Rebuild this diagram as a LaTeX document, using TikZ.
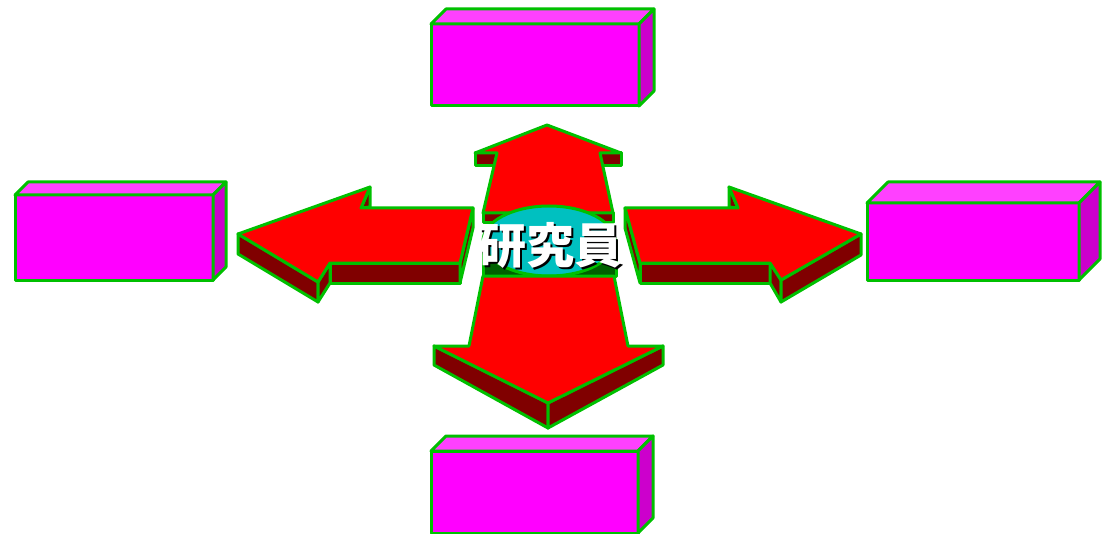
\documentclass[tikz,border=0pt]{standalone}
\usepackage{fontspec}
\newfontfamily\cjk{Noto Sans CJK JP}
\usetikzlibrary{shapes.geometric}
\definecolor{edgegreen}{RGB}{0,192,0}
\definecolor{arrowred}{RGB}{255,0,0}
\definecolor{arrowdark}{RGB}{128,0,0}
\definecolor{boxpink}{RGB}{255,0,255}
\definecolor{boxlight}{RGB}{255,64,255}
\definecolor{boxdark}{RGB}{204,0,204}
\definecolor{hubcyan}{RGB}{0,192,192}
\definecolor{hubdark}{RGB}{0,96,0}

\begin{document}
\begin{tikzpicture}[
    x=0.5pt, y=-0.5pt,
    edge/.style={draw=edgegreen, line width=1.5pt, line join=round},
    topface/.style={edge, fill=arrowred},
    darkface/.style={edge, fill=arrowdark},
    boxfront/.style={edge, fill=boxpink},
    boxtop/.style={edge, fill=boxlight},
    boxside/.style={edge, fill=boxdark},
    hub/.style={ellipse, edge, fill=hubcyan, minimum width=66pt, minimum height=35pt, inner sep=0pt},
    hubtext/.style={font=\cjk\bfseries\fontsize{24}{24}\selectfont, inner sep=0pt}
]
\useasboundingbox (0,0) rectangle (1102,534);

\foreach \x/\y/\w/\h/\d in {431/24/208/82/15, 15/195/198/85/13, 867/203/212/77/21, 431/451/207/82/15} {
    \draw[boxfront] (\x,\y) rectangle ++(\w,\h);
    \draw[boxtop] (\x,\y) -- ++(\d,-\d) -- ++(\w,0) -- ++(-\d,\d) -- cycle;
    \draw[boxside] (\x,\y) ++(\w,0) -- ++(\d,-\d) -- ++(0,\h) -- ++(-\d,\d) -- cycle;
}

\draw[darkface] (238,234) -- (318,282) -- (318,302) -- (238,254) -- cycle;
\draw[darkface] (318,282) -- (330,263) -- (330,283) -- (318,302) -- cycle;
\draw[darkface] (330,263) -- (460,263) -- (460,283) -- (330,283) -- cycle;
\draw[darkface] (460,263) -- (473,208) -- (473,228) -- (460,283) -- cycle;
\draw[darkface] (370,187) -- (370,207) -- (361,208) -- cycle;
\draw[topface] (238,234) -- (370,187) -- (361,208) -- (473,208) -- (460,263) -- (330,263) -- (318,282) -- cycle;

\draw[darkface] (625,208) -- (640,263) -- (640,283) -- (625,228) -- cycle;
\draw[darkface] (640,263) -- (770,263) -- (770,283) -- (640,283) -- cycle;
\draw[darkface] (770,263) -- (781,280) -- (781,302) -- (770,283) -- cycle;
\draw[darkface] (781,280) -- (861,234) -- (861,255) -- (781,302) -- cycle;
\draw[darkface] (729,187) -- (729,207) -- (738,208) -- cycle;
\draw[topface] (625,208) -- (738,208) -- (729,187) -- (861,234) -- (781,280) -- (770,263) -- (640,263) -- cycle;

\draw[darkface] (475,153) rectangle (497,166);
\draw[darkface] (600,153) rectangle (621,166);
\draw[darkface] (483,213) rectangle (613,223);
\draw[topface] (547,125) -- (621,153) -- (600,153) -- (613,213) -- (483,213) -- (497,153) -- (475,153) -- cycle;

\draw[edge, fill=hubdark] (483,241) rectangle (616,276);
\node[hub] (hub) at (549,241) {};

\draw[darkface] (434,346) -- (548,403) -- (548,428) -- (434,365) -- cycle;
\draw[darkface] (548,403) -- (663,346) -- (663,365) -- (548,428) -- cycle;
\draw[topface] (483,276) -- (614,276) -- (628,346) -- (663,346) -- (548,403) -- (434,346) -- (469,346) -- cycle;

\node[hubtext, text=black] (shadow) at (552,247) {研究員};
\node[hubtext, text=white] (title) at (550,245) {研究員};
\end{tikzpicture}
\end{document}
